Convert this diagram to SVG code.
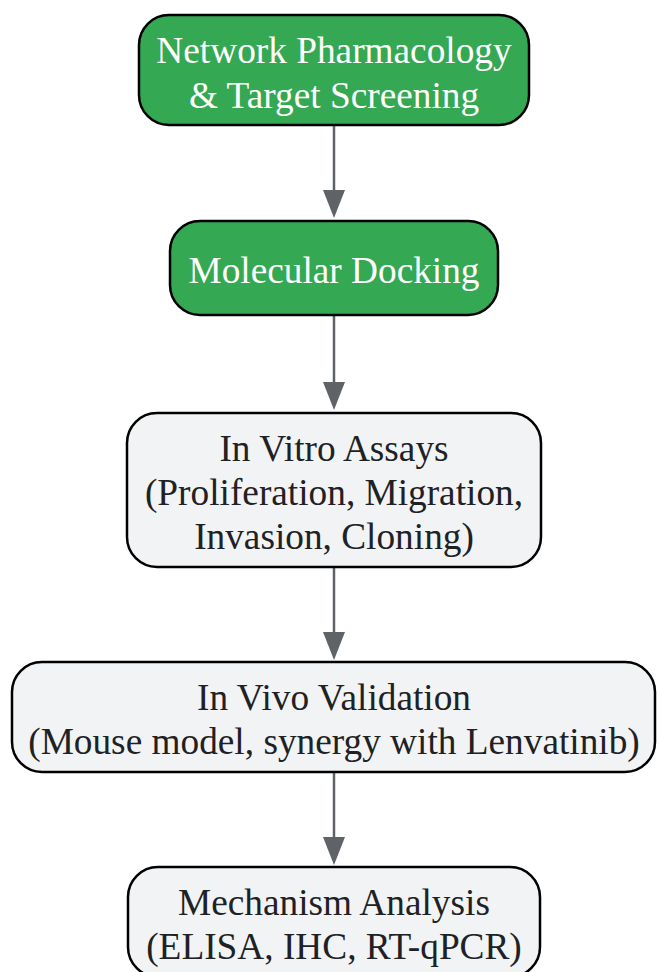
<svg xmlns="http://www.w3.org/2000/svg" width="657" height="972" viewBox="0 0 657 972">
<defs>
<style>
.g{fill:#34a853;stroke:#000;stroke-width:2.5}
.l{fill:#f1f3f4;stroke:#000;stroke-width:2.5}
text{font-family:"Liberation Serif","Times New Roman",serif;font-size:37.3px;text-anchor:middle}
.tw{fill:#ffffff}
.td{fill:#202124}
.e{stroke:#5f6368;stroke-width:2.5;fill:none}
</style>
</defs>
<rect width="657" height="972" fill="#ffffff"/>
<g id="connectors">
<line class="e" x1="334" y1="125" x2="334" y2="192"/>
<path d="M323,190 L345,190 L334,218 Z" fill="#5f6368"/>
<line class="e" x1="334" y1="315" x2="334" y2="384"/>
<path d="M323,382 L345,382 L334,410 Z" fill="#5f6368"/>
<line class="e" x1="334" y1="567" x2="334" y2="634"/>
<path d="M323,632 L345,632 L334,660 Z" fill="#5f6368"/>
<line class="e" x1="334" y1="772" x2="334" y2="839"/>
<path d="M323,837 L345,837 L334,865 Z" fill="#5f6368"/>
</g>
<g id="n1">
<rect class="g" x="139" y="15" width="390" height="110" rx="30"/>
<text class="tw" x="334" y="63">Network Pharmacology</text>
<text class="tw" x="334" y="108">&amp; Target Screening</text>
</g>
<g id="n2">
<rect class="g" x="170" y="221" width="328" height="94" rx="30"/>
<text class="tw" x="334" y="283">Molecular Docking</text>
</g>
<g id="n3">
<rect class="l" x="127" y="413" width="414" height="154" rx="30"/>
<text class="td" x="334" y="461">In Vitro Assays</text>
<text class="td" x="334" y="505">(Proliferation, Migration,</text>
<text class="td" x="334" y="549">Invasion, Cloning)</text>
</g>
<g id="n4">
<rect class="l" x="12" y="662" width="643" height="110" rx="30"/>
<text class="td" x="334" y="710">In Vivo Validation</text>
<text class="td" x="334" y="754">(Mouse model, synergy with Lenvatinib)</text>
</g>
<g id="n5">
<rect class="l" x="128" y="867" width="412" height="110" rx="30"/>
<text class="td" x="334" y="915">Mechanism Analysis</text>
<text class="td" x="334" y="959">(ELISA, IHC, RT-qPCR)</text>
</g>
</svg>
